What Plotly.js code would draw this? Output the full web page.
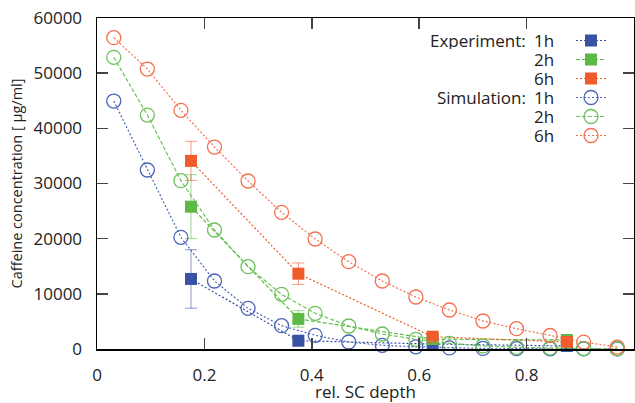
<!DOCTYPE html>
<html>
<head>
<meta charset="utf-8">
<script src="https://cdn.plot.ly/plotly-3.0.1.min.js"></script>
<style>html,body{margin:0;padding:0;background:#fff;}#chart{width:635px;height:403px;}</style>
</head>
<body>
<div id="chart"></div>
<script>
// ---- data ----
var xSim = [0.03125, 0.09375, 0.15625, 0.21875, 0.28125, 0.34375, 0.40625, 0.46875,
            0.53125, 0.59375, 0.65625, 0.71875, 0.78125, 0.84375, 0.90625, 0.96875];
var sim1h = [44950, 32450, 20250, 12330, 7370, 4230, 2480, 1270, 670, 400, 200, 110, 60, 30, 15, 8];
var sim2h = [52870, 42410, 30510, 21570, 14920, 9910, 6470, 4170, 2720, 1760, 1030, 550, 300, 160, 90, 50];
var sim6h = [56430, 50750, 43270, 36610, 30450, 24780, 19940, 15830, 12330, 9430, 7070, 5080, 3680, 2450, 1250, 350];

var xExp = [0.175, 0.375, 0.625, 0.875];
var exp1h = [12700, 1500, 900, 550];
var err1h = [5300, 300, 150, 100];
var exp2h = [25800, 5450, 1800, 1630];
var err2h = [5800, 1500, 300, 200];
var exp6h = [34100, 13650, 2230, 1270];
var err6h = [3550, 1950, 400, 300];

var xTicks = [0, 0.2, 0.4, 0.6, 0.8, 1];
var xTickText = ['0', '0.2', '0.4', '0.6', '0.8', '1'];
var yTicks = [0, 10000, 20000, 30000, 40000, 50000, 60000];

var groupLabels = ['Experiment:', 'Simulation:'];
var timeLabels = ['1h', '2h', '6h'];

// ---- styles ----
var FONT = 'Open Sans, Noto Sans, sans-serif';
var TXT = '#222';
var expColors = ['#3953A4', '#5DB946', '#F15A29'];
var expErrColors = ['rgba(57,83,164,0.6)', 'rgba(93,185,70,0.6)', 'rgba(241,90,41,0.6)'];
var simColors = ['#4A64B8', '#6CC25A', '#F4704F'];
var expDash = ['2px,2px', '4px,2px', '2px,2px'];
var simDash = ['2px,2px', '4px,2px', '2px,2px'];

var expY = [exp1h, exp2h, exp6h];
var expE = [err1h, err2h, err6h];
var simY = [sim1h, sim2h, sim6h];

var traces = [];
for (var i = 0; i < 3; i++) {
  traces.push({
    x: xExp, y: expY[i], type: 'scatter', mode: 'lines+markers', name: '',
    cliponaxis: false,
    line: {color: expColors[i], width: 1.2, dash: expDash[i]},
    marker: {symbol: 'square', size: 12, color: expColors[i]},
    error_y: {type: 'data', array: expE[i], visible: true, color: expErrColors[i], thickness: 1, width: 6}
  });
}
for (var j = 0; j < 3; j++) {
  traces.push({
    x: xSim, y: simY[j], type: 'scatter', mode: 'lines+markers', name: '',
    cliponaxis: false,
    line: {color: simColors[j], width: 1.2, dash: simDash[j]},
    marker: {symbol: 'circle-open', size: 14, color: simColors[j], line: {width: 1.3, color: simColors[j]}}
  });
}

// legend label annotations
var L = 97, T = 18, PW = 537, PH = 331;
var rowY = [40, 59, 78, 97, 116, 135];
var annotations = [];
for (var k = 0; k < 6; k++) {
  var py = (T + PH - rowY[k]) / PH;
  annotations.push({xref: 'paper', yref: 'paper', x: (556 - L) / PW, y: py, xanchor: 'right', yanchor: 'middle',
    text: timeLabels[k % 3], showarrow: false, height: 18, font: {family: FONT, size: 17, color: TXT}});
  if (k % 3 === 0) {
    annotations.push({xref: 'paper', yref: 'paper', x: (528 - L) / PW, y: py, xanchor: 'right', yanchor: 'middle',
      text: groupLabels[k / 3], showarrow: false, height: 18, font: {family: FONT, size: 17, color: TXT}});
  }
}

var layout = {
  width: 635, height: 403,
  margin: {l: 97, r: 1, t: 18, b: 54},
  paper_bgcolor: '#fff', plot_bgcolor: '#fff',
  font: {family: FONT, size: 17, color: TXT},
  showlegend: true,
  legend: {x: (571 - L) / PW, y: (T + PH - 26) / PH, xanchor: 'left', yanchor: 'top',
    bgcolor: 'rgba(0,0,0,0)', borderwidth: 0, font: {size: 10}, itemwidth: 30, tracegroupgap: 0},
  xaxis: {
    range: [0, 1], tickvals: xTicks, ticktext: xTickText,
    showgrid: false, zeroline: false, showline: true, linecolor: '#000', linewidth: 1.5,
    mirror: 'ticks', ticks: 'inside', ticklen: 11, tickcolor: '#444', tickwidth: 1.5,
    ticklabelstandoff: 10,
    tickfont: {family: FONT, size: 17, color: TXT},
    title: {text: 'rel. SC depth', font: {family: FONT, size: 17, color: TXT}, standoff: 12}
  },
  yaxis: {
    range: [0, 60000], tickvals: yTicks, tickformat: 'd',
    showgrid: false, zeroline: false, showline: true, linecolor: '#000', linewidth: 1.5,
    mirror: 'ticks', ticks: 'inside', ticklen: 11, tickcolor: '#444', tickwidth: 1.5,
    ticklabelstandoff: 10,
    tickfont: {family: FONT, size: 17, color: TXT},
    title: {text: 'Caffeine concentration [ µg/ml]', font: {family: FONT, size: 14.5, color: TXT}, standoff: 7}
  },
  annotations: annotations
};

Plotly.newPlot('chart', traces, layout, {displayModeBar: false, staticPlot: true});
</script>
</body>
</html>
